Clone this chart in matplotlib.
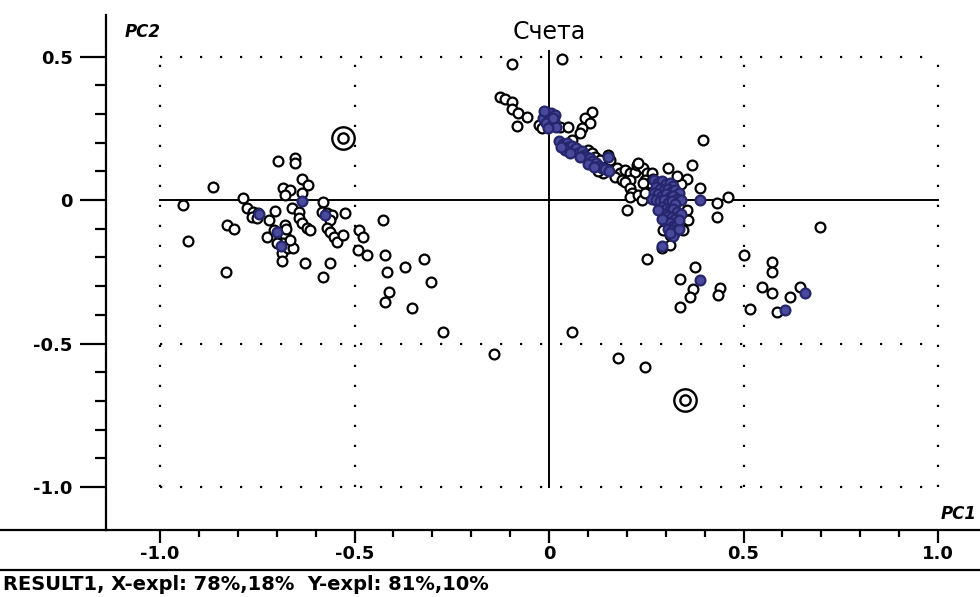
import numpy as np
import matplotlib.pyplot as plt
from matplotlib.ticker import FixedLocator

# Scores (PC1, PC2)
left_pts = [(-0.940, -0.017), (-0.927, -0.142), (-0.863, 0.046), (-0.830, -0.250), (-0.829, -0.087),
            (-0.809, -0.102), (-0.787, 0.006), (-0.777, -0.029), (-0.760, -0.041), (-0.747, -0.046),
            (-0.764, -0.058), (-0.751, -0.064), (-0.704, -0.038), (-0.720, -0.070), (-0.726, -0.128),
            (-0.707, -0.105), (-0.692, -0.128), (-0.679, -0.087), (-0.679, -0.122), (-0.683, -0.151),
            (-0.687, -0.186), (-0.686, -0.211), (-0.670, -0.168), (-0.657, -0.168), (-0.698, 0.137),
            (-0.653, 0.146), (-0.653, 0.130), (-0.683, 0.041), (-0.666, 0.035), (-0.679, 0.017),
            (-0.636, 0.075), (-0.619, 0.052), (-0.636, 0.023), (-0.661, -0.029), (-0.644, -0.041),
            (-0.644, -0.064), (-0.636, -0.081), (-0.623, -0.099), (-0.614, -0.105), (-0.627, -0.221),
            (-0.580, -0.006), (-0.584, -0.041), (-0.571, -0.046), (-0.559, -0.052), (-0.524, -0.044),
            (-0.563, -0.070), (-0.571, -0.099), (-0.563, -0.110), (-0.554, -0.128), (-0.546, -0.145),
            (-0.529, -0.122), (-0.563, -0.221), (-0.580, -0.267), (-0.488, -0.105), (-0.479, -0.128),
            (-0.490, -0.174), (-0.469, -0.192), (-0.426, -0.070), (-0.422, -0.192), (-0.416, -0.250),
            (-0.370, -0.232), (-0.411, -0.319), (-0.422, -0.354), (-0.321, -0.206), (-0.303, -0.285),
            (-0.352, -0.375), (-0.272, -0.461), (-0.141, -0.537), (-0.700, -0.150), (-0.675, -0.100),
            (-0.665, -0.140)]

top_pts = [(0.033, 0.490), (-0.096, 0.473), (-0.126, 0.358), (-0.113, 0.351), (-0.094, 0.343),
           (-0.096, 0.316), (-0.079, 0.302), (-0.056, 0.290), (-0.083, 0.258), (-0.027, 0.260),
           (-0.019, 0.250), (0.028, 0.255), (0.050, 0.255), (0.110, 0.308), (0.093, 0.285),
           (0.105, 0.267), (0.084, 0.250), (0.080, 0.232)]

band_pts = [(0.060, 0.210), (0.100, 0.175), (0.110, 0.163), (0.118, 0.151), (0.131, 0.139),
            (0.152, 0.157), (0.157, 0.139), (0.174, 0.110), (0.183, 0.093), (0.170, 0.081),
            (0.187, 0.070), (0.140, 0.095), (0.125, 0.100), (0.195, 0.105), (0.208, 0.093),
            (0.221, 0.099), (0.225, 0.122), (0.242, 0.110), (0.230, 0.128), (0.251, 0.093),
            (0.247, 0.070), (0.260, 0.058), (0.277, 0.052), (0.208, 0.070), (0.195, 0.064),
            (0.208, 0.041), (0.213, 0.023), (0.208, 0.012), (0.230, 0.017), (0.238, 0.000),
            (0.242, 0.058), (0.247, 0.023), (0.264, 0.093), (0.268, 0.075), (0.200, -0.035)]

right_pts = [(0.307, 0.110), (0.367, 0.122), (0.397, 0.209), (0.354, 0.075), (0.388, 0.041),
             (0.431, -0.012), (0.431, -0.058), (0.461, 0.012), (0.354, -0.035), (0.358, -0.070),
             (0.345, -0.105), (0.294, -0.105), (0.320, -0.110), (0.311, -0.122), (0.290, -0.168),
             (0.311, -0.157), (0.251, -0.207), (0.697, -0.093), (0.340, 0.055), (0.330, 0.085)]

low_pts = [(0.500, -0.192), (0.375, -0.235), (0.574, -0.215), (0.574, -0.250), (0.337, -0.276),
           (0.371, -0.311), (0.362, -0.339), (0.440, -0.308), (0.435, -0.331), (0.337, -0.374),
           (0.548, -0.304), (0.574, -0.325), (0.620, -0.339), (0.645, -0.302), (0.517, -0.381),
           (0.585, -0.389), (0.058, -0.461), (0.177, -0.552), (0.247, -0.581)]

# overlapping points that show up dark blue in the reference
dense_pts = [(-0.636, -0.003), (-0.576, -0.052), (-0.690, -0.160), (-0.745, -0.050), (-0.700, -0.112),
             (-0.010, 0.300), (0.005, 0.305), (0.015, 0.295), (-0.015, 0.285), (0.000, 0.280),
             (0.012, 0.275), (-0.008, 0.270), (0.008, 0.262), (0.018, 0.255), (-0.002, 0.250),
             (-0.012, 0.310), (0.010, 0.285),
             (0.025, 0.205), (0.035, 0.195), (0.045, 0.200), (0.050, 0.185), (0.060, 0.190),
             (0.065, 0.175), (0.070, 0.180), (0.075, 0.165), (0.085, 0.170), (0.090, 0.158),
             (0.095, 0.150), (0.105, 0.145), (0.110, 0.135), (0.120, 0.130), (0.128, 0.120),
             (0.135, 0.110), (0.145, 0.108), (0.040, 0.175), (0.055, 0.165), (0.080, 0.150),
             (0.100, 0.125), (0.115, 0.115), (0.155, 0.100), (0.030, 0.185), (0.152, 0.151),
             (0.270, 0.070), (0.280, 0.060), (0.290, 0.065), (0.300, 0.055), (0.310, 0.060),
             (0.320, 0.050), (0.275, 0.045), (0.285, 0.040), (0.295, 0.035), (0.305, 0.040),
             (0.315, 0.030), (0.325, 0.035), (0.335, 0.025), (0.270, 0.025), (0.280, 0.020),
             (0.290, 0.015), (0.300, 0.020), (0.310, 0.010), (0.320, 0.015), (0.330, 0.005),
             (0.340, 0.000), (0.265, 0.005), (0.275, 0.000), (0.285, -0.005), (0.295, 0.000),
             (0.305, -0.010), (0.315, -0.005), (0.325, -0.015), (0.290, -0.025), (0.300, -0.030),
             (0.310, -0.035), (0.320, -0.030), (0.330, -0.040), (0.295, -0.050), (0.305, -0.055),
             (0.315, -0.060), (0.325, -0.065), (0.300, -0.075), (0.310, -0.080), (0.320, -0.090),
             (0.330, -0.085), (0.305, -0.100), (0.315, -0.105), (0.325, -0.110), (0.320, -0.125),
             (0.310, -0.115), (0.335, -0.100), (0.290, -0.065), (0.280, -0.035), (0.340, -0.050),
             (0.335, -0.070), (0.388, 0.000), (0.290, -0.160),
             (0.388, -0.279), (0.658, -0.323), (0.607, -0.383)]

marked_pc1 = [-0.530, 0.350]
marked_pc2 = [0.218, -0.697]

x_major = [-1.0, -0.5, 0.0, 0.5, 1.0]
x_labels = ['-1.0', '-0.5', '0', '0.5', '1.0']
y_major = [0.5, 0.0, -0.5, -1.0]
y_labels = ['0.5', '0', '-0.5', '-1.0']

plt.rcParams['font.family'] = ['DejaVu Sans']

fig = plt.figure(figsize=(9.8, 5.97), dpi=100)
ax = fig.add_axes([106/980, 67/597, 874/980, 515/597])
ax.set_xlim(-1.139, 1.108)
ax.set_ylim(-1.150, 0.645)

for s in ['top', 'right']:
    ax.spines[s].set_visible(False)
for s in ['left', 'bottom']:
    ax.spines[s].set_linewidth(1.6)

# dotted frame / grid
dot = dict(color='black', lw=1.6, linestyle=(0, (1, 8)), zorder=1)
for gx in [-1.0, -0.5, 0.5, 1.0]:
    ax.plot([gx, gx], [-1.0, 0.5], **dot)
for gy in [0.5, -0.5, -1.0]:
    ax.plot([-1.0, 1.0], [gy, gy], **dot)

# solid zero axes
ax.plot([-1.0, 1.0], [0, 0], color='black', lw=1.4, zorder=1)
ax.plot([0, 0], [-1.0, 0.52], color='black', lw=1.4, zorder=1)

def draw(pts, edge, face):
    xs = [p[0] for p in pts]
    ys = [p[1] for p in pts]
    ax.scatter(xs, ys, s=50, facecolors=face, edgecolors=edge, linewidths=1.6, zorder=3)

for grp in [left_pts, top_pts, band_pts, right_pts, low_pts]:
    draw(grp, 'black', 'white')
draw(dense_pts, '#26266e', '#4a4a9c')

# marked samples: double ring
ax.scatter(marked_pc1, marked_pc2, s=260, facecolors='white', edgecolors='black', linewidths=1.7, zorder=4)
ax.scatter(marked_pc1, marked_pc2, s=55, facecolors='white', edgecolors='black', linewidths=1.7, zorder=5)

# ticks
ax.xaxis.set_major_locator(FixedLocator(x_major))
ax.set_xticklabels(x_labels)
ax.xaxis.set_minor_locator(FixedLocator(np.round(np.arange(-0.9, 0.95, 0.1), 2)))
ax.yaxis.set_major_locator(FixedLocator(y_major))
ax.set_yticklabels(y_labels)
ax.yaxis.set_minor_locator(FixedLocator(np.round(np.arange(-0.9, 0.45, 0.1), 2)))
ax.tick_params(axis='y', which='major', direction='out', length=19, width=1.6, pad=5, labelsize=13)
ax.tick_params(axis='y', which='minor', direction='out', length=8, width=1.6)
ax.tick_params(axis='x', which='major', direction='out', length=9, width=1.6, pad=2, labelsize=13)
ax.tick_params(axis='x', which='minor', direction='out', length=5, width=1.6)
for lab in ax.get_xticklabels() + ax.get_yticklabels():
    lab.set_fontweight('bold')

ax.text(-1.09, 0.585, 'PC2', fontsize=12, fontweight='bold', style='italic', va='center', ha='left')
ax.text(1.10, -1.095, 'PC1', fontsize=12, fontweight='bold', style='italic', va='center', ha='right')
ax.text(0.0, 0.585, 'Счета', fontsize=17, va='center', ha='center')

# bottom axis line continues to the figure edge, plus the status bar
fig.add_artist(plt.Line2D([0, 106/980], [67/597, 67/597], color='black', lw=1.6))
fig.add_artist(plt.Line2D([0, 1], [27/597, 27/597], color='black', lw=1.6))
fig.text(3/980, 12/597, 'RESULT1, X-expl: 78%,18%  Y-expl: 81%,10%', fontsize=14,
         fontweight='bold', va='center', ha='left')

fig.savefig('out.png', dpi=100)
